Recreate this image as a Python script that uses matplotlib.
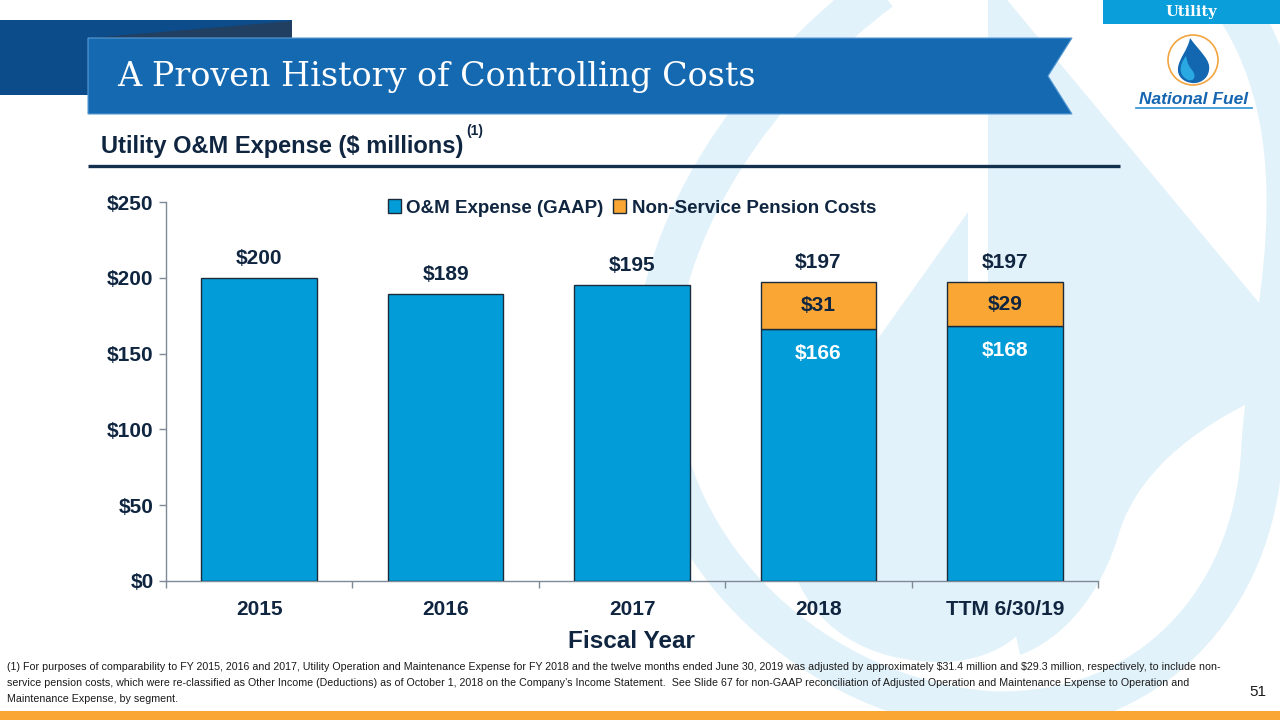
"""
Utility O&M Expense slide: stacked bars of GAAP O&M plus non-service pension costs.
"""

import matplotlib
matplotlib.use("Agg")
import matplotlib.pyplot as plt
from matplotlib.path import Path
from matplotlib.patches import PathPatch, Polygon, Rectangle, Circle
from matplotlib.ticker import FixedLocator, FuncFormatter

plt.rcParams["font.family"] = ["Liberation Sans", "DejaVu Sans"]

# ---- data ----
categories = ["2015", "2016", "2017", "2018", "TTM 6/30/19"]
om_gaap = [200, 189, 195, 166, 168]
pension = [0, 0, 0, 31, 29]
totals = [200, 189, 195, 197, 197]
y_ticks = [0, 50, 100, 150, 200, 250]

NAVY = "#0F2540"
BAR_BLUE = "#029DD9"
ORANGE = "#F9A634"
WASH = "#E2F2FA"

W, H = 1280, 720
fig = plt.figure(figsize=(12.8, 7.2), dpi=100)

# background / decoration layer in pixel coordinates (y down)
bg = fig.add_axes([0, 0, 1, 1], zorder=0)
bg.set_xlim(0, W)
bg.set_ylim(H, 0)
bg.axis("off")

# watermark: big faded logo
M, C, L, Z = Path.MOVETO, Path.CURVE4, Path.LINETO, Path.CLOSEPOLY
ring = Path([(880, -10), (760, 80), (650, 230), (655, 380),
             (660, 560), (820, 700), (990, 712),
             (1150, 718), (1255, 600), (1262, 450),
             (1268, 330), (1330, 150), (1235, 5)],
            [M, C, C, C, C, C, C, C, C, C, C, C, C])
bg.add_patch(PathPatch(ring, fill=False, edgecolor=WASH, lw=30, capstyle="butt", zorder=1))

drop = Path([(988, -5), (1003, -5), (1290, 340), (1290, 385),
             (1200, 420), (1140, 470), (1120, 530),
             (1100, 600), (1060, 640), (1020, 655),
             (1000, 560), (990, 450), (988, 380), (988, -5)],
            [M, L, L, L, C, C, C, C, C, C, C, C, C, Z])
bg.add_patch(PathPatch(drop, facecolor=WASH, edgecolor="none", zorder=1))

flame = Path([(968, 212), (968, 380),
              (975, 470), (1045, 520), (1040, 590),
              (1035, 640), (985, 662), (940, 662),
              (870, 662), (810, 630), (790, 560),
              (780, 470), (830, 400), (877, 340), (968, 212)],
             [M, L, C, C, C, C, C, C, C, C, C, C, L, L, Z])
bg.add_patch(PathPatch(flame, facecolor=WASH, edgecolor="none", zorder=1))

# title banners
bg.add_patch(Rectangle((0, 20), 292, 75, facecolor="#0C4C8B", edgecolor="none", zorder=3))
bg.add_patch(Polygon([(90, 38), (292, 21), (292, 38)], closed=True,
                     facecolor="#213F60", edgecolor="none", zorder=3))
bg.add_patch(Polygon([(88, 38), (1072, 38), (1048, 76), (1072, 114), (88, 114)], closed=True,
                     facecolor="#1569B1", edgecolor="#5A9BD5", lw=0.8, zorder=4))
bg.text(117, 77, "A Proven History of Controlling Costs", color="white",
        fontsize=24, family=["DejaVu Serif"], va="center", ha="left", zorder=5)

# "Utility" tab and logo
bg.add_patch(Rectangle((1103, 0), 177, 24, facecolor="#0A9EDA", edgecolor="none", zorder=3))
bg.text(1191, 12, "Utility", color="white", fontsize=10.5, fontweight="bold",
        family=["DejaVu Serif"], ha="center", va="center", zorder=5)
bg.add_patch(Circle((1193, 60), 25, facecolor="white", edgecolor="#F2A541", lw=1.2, zorder=4))
logo_drop = Path([(1190, 38), (1200, 52), (1211, 60), (1209, 70),
                  (1208, 80), (1198, 84), (1192, 83),
                  (1183, 82), (1177, 76), (1178, 68),
                  (1179, 58), (1188, 50), (1190, 38)],
                 [M, C, C, C, C, C, C, C, C, C, C, C, Z])
bg.add_patch(PathPatch(logo_drop, facecolor="#1366B0", edgecolor="none", zorder=5))
logo_in = Path([(1186, 56), (1178, 66), (1179, 76), (1188, 80),
                (1194, 82), (1197, 76), (1192, 70),
                (1187, 64), (1187, 60), (1186, 56)],
               [M, C, C, C, C, C, C, C, C, Z])
bg.add_patch(PathPatch(logo_in, facecolor="#2AA8E2", edgecolor="none", zorder=6))
bg.text(1194, 100, "National Fuel", color="#1565B0", fontsize=12.5, fontweight="bold",
        style="italic", ha="center", va="center", zorder=5)
bg.plot([1136, 1252], [108, 108], color="#2A8FD5", lw=1.2, zorder=5)

# subtitle + rule
bg.text(101, 147, "Utility O&M Expense (\\$ millions)", color=NAVY, fontsize=17,
        fontweight="bold", ha="left", va="center", zorder=5)
bg.text(466, 131, "(1)", color=NAVY, fontsize=10, fontweight="bold",
        ha="left", va="center", zorder=5)
bg.plot([88, 1120], [166, 166], color="#14304F", lw=2.4, zorder=5, solid_capstyle="butt")

# footnote, page number, orange footer
footnote = [
    "(1) For purposes of comparability to FY 2015, 2016 and 2017, Utility Operation and Maintenance Expense for FY 2018 "
    "and the twelve months ended June 30, 2019 was adjusted by approximately \\$31.4 million and \\$29.3 million, "
    "respectively, to include non-",
    "service pension costs, which were re-classified as Other Income (Deductions) as of October 1, 2018 on the "
    "Company\u2019s Income Statement.  See Slide 67 for non-GAAP reconciliation of Adjusted Operation and "
    "Maintenance Expense to Operation and",
    "Maintenance Expense, by segment.",
]
for i, line in enumerate(footnote):
    bg.text(7, 667 + 16 * i, line, color="#1A1A1A", fontsize=7.7, ha="left", va="center", zorder=5)
bg.text(1258, 692, "51", color="#1A1A1A", fontsize=11, ha="center", va="center", zorder=5)
bg.add_patch(Rectangle((0, 711), W, 9, facecolor=ORANGE, edgecolor="none", zorder=5))

# ---- chart ----
ax = fig.add_axes([166 / W, 1 - 581 / H, 932 / W, 379 / H], zorder=2)
ax.patch.set_alpha(0)
x = list(range(len(categories)))
bw = 0.62
ax.bar(x, om_gaap, width=bw, color=BAR_BLUE, edgecolor="#1C2B3A", lw=1.0,
       label="O&M Expense (GAAP)", zorder=3)
px = [i for i, p in enumerate(pension) if p > 0]
ax.bar(px, [pension[i] for i in px], bottom=[om_gaap[i] for i in px], width=bw,
       color=ORANGE, edgecolor="#1C2B3A", lw=1.0, label="Non-Service Pension Costs", zorder=3)

for i, tot in enumerate(totals):
    ax.text(i, tot + 13, f"\\${tot}", ha="center", va="center", fontsize=15,
            fontweight="bold", color=NAVY)
for i in px:
    ax.text(i, om_gaap[i] + pension[i] / 2, f"\\${pension[i]}", ha="center", va="center",
            fontsize=15, fontweight="bold", color=NAVY)
    ax.text(i, om_gaap[i] - 16, f"\\${om_gaap[i]}", ha="center", va="center",
            fontsize=15, fontweight="bold", color="white")

ax.set_xlim(-0.5, len(categories) - 0.5)
ax.set_ylim(0, 250)
ax.set_yticks(y_ticks)
ax.yaxis.set_major_formatter(FuncFormatter(lambda v, _: f"\\${v:.0f}"))
ax.set_xticks(x)
ax.set_xticklabels(categories)
ax.xaxis.set_minor_locator(FixedLocator([i - 0.5 for i in range(len(categories) + 1)]))
ax.tick_params(axis="x", which="major", length=0, pad=14, labelsize=15, labelcolor=NAVY)
ax.tick_params(axis="x", which="minor", length=5, width=1, color="#7F8A96", direction="out")
ax.tick_params(axis="y", length=5, width=1, color="#7F8A96", pad=4, labelsize=15, labelcolor=NAVY)
for lbl in ax.get_xticklabels() + ax.get_yticklabels():
    lbl.set_fontweight("bold")
for s in ["top", "right"]:
    ax.spines[s].set_visible(False)
for s in ["left", "bottom"]:
    ax.spines[s].set_color("#7F8A96")
    ax.spines[s].set_linewidth(1)

leg = ax.legend(loc="center", bbox_to_anchor=(0.5, 1 - 6 / 379), ncol=2, frameon=False,
                handlelength=0.7, handleheight=0.7, handletextpad=0.3, columnspacing=0.5,
                prop={"size": 13.5, "weight": "bold"})
for t in leg.get_texts():
    t.set_color(NAVY)

fig.text(631 / W, 1 - 642 / H, "Fiscal Year", ha="center", va="center", fontsize=17.5,
         fontweight="bold", color=NAVY)

fig.savefig("out.png", dpi=100)
